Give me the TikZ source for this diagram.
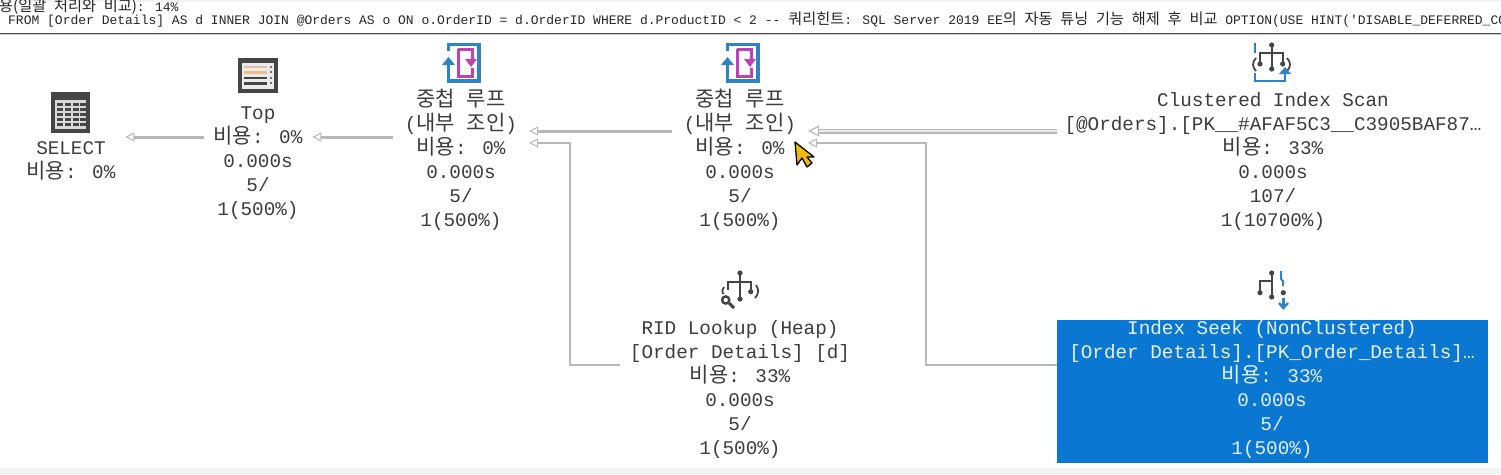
\documentclass[tikz,border=0pt]{standalone}
\usepackage{fontspec}
\usetikzlibrary{arrows.meta,calc}
\newfontfamily\monof{Liberation Mono}
\newfontfamily\kofont{Noto Sans CJK KR}
\newcommand\ko[1]{{\kofont\fontsize{21}{24}\selectfont #1}}
\newcommand\kos[1]{{\kofont\fontsize{15.2}{16}\selectfont #1}}
\definecolor{txt}{HTML}{3C3C3C}
\definecolor{icondark}{HTML}{454545}
\definecolor{iconblue}{HTML}{2F84C4}
\definecolor{iconpink}{HTML}{C040B8}
\definecolor{sel}{HTML}{0A78D2}
\definecolor{flowc}{HTML}{B8B8B8}
\definecolor{cursorc}{HTML}{F2B90C}
\tikzset{
 x=1pt,y=-1pt,
 optext/.style={font=\monof\fontsize{19.3}{24}\selectfont,align=center,text=txt,inner xsep=10pt,inner ysep=0pt,outer sep=0pt},
 hdr/.style={font=\monof\fontsize{13}{15}\selectfont,text=black!85,anchor=base west,inner sep=0pt},
 flowthick/.style={draw=flowc,line width=3pt,-{Triangle[open,length=9pt,width=9pt,line width=1pt,fill=white]}},
 flowdouble/.style={draw=flowc,line width=1.2pt,double=black!8,double distance=2.6pt,-{Triangle[open,length=11pt,width=11pt,line width=1.2pt,fill=white]}},
 flowthin/.style={draw=flowc,line width=2pt,-{Triangle[open,length=9pt,width=9pt,line width=1pt,fill=white]}},
 nlicon/.pic={
  % origin is top-left of the blue frame
  \draw[iconblue,line width=3.2pt] (1.5,8)--(1.5,1.5)--(32,1.5)--(32,38)--(1.5,38)--(1.5,24);
  \draw[iconpink,line width=3pt] (11,6)--(11,33)--(25,33)--(25,25);
  \draw[iconpink,line width=3pt] (11,6)--(25,6)--(25,16);
  \fill[iconpink] (18,16)--(30,16)--(24,24)--cycle;
  \fill[iconblue] (-5,22)--(8,22)--(1.5,14)--cycle;
  \draw[iconblue,line width=3.2pt] (1.5,21)--(1.5,30);
 },
}
\begin{document}
\begin{tikzpicture}
\useasboundingbox (0,0) rectangle (1501,474);
\clip (0,0) rectangle (1501,474);
\fill[white] (0,0) rectangle (1501,474);
\fill[black!5] (0,0) rectangle (1501,2);
\fill[black!5] (0,468) rectangle (1501,474);
% header
\node[hdr] (qcost) at (-1,11) {\kos{용(일괄} \kos{처리와} \kos{비교)}: 14\%};
\node[hdr] (qtext) at (8,24) {FROM [Order Details] AS d INNER JOIN @Orders AS o ON o.OrderID = d.OrderID WHERE d.ProductID < 2 -- \kos{쿼리힌트}: SQL Server 2019 EE\kos{의} \kos{자동} \kos{튜닝} \kos{기능} \kos{해제} \kos{후} \kos{비교} OPTION(USE HINT('DISABLE\_DEFERRED\_CO};
\fill[black!70] (0,32.5) rectangle (1501,34);
\fill[black!20] (0,34) rectangle (1501,35);
% rails
\coordinate (r1) at (0,137);
\coordinate (r2) at (0,131);
\coordinate (r3) at (0,143);
\coordinate (r4) at (0,365);
\coordinate (c1) at (570,0);
\coordinate (c2) at (926,0);
% operator text
\node[optext] (select) at (71,160.5) {SELECT\\\ko{비용}: 0\%};
\node[optext] (top) at (258,163.5) {Top\\\ko{비용}: 0\%\\0.000s\\5/\\1(500\%)};
\node[optext,inner xsep=12pt] (nl1) at (461,160) {\ko{중첩} \ko{루프}\\(\ko{내부} \ko{조인})\\\ko{비용}: 0\%\\0.000s\\5/\\1(500\%)};
\node[optext,inner xsep=12pt] (nl2) at (740,160) {\ko{중첩} \ko{루프}\\(\ko{내부} \ko{조인})\\\ko{비용}: 0\%\\0.000s\\5/\\1(500\%)};
\node[optext,inner xsep=8pt] (scan) at (1273,162) {Clustered Index Scan\\{}[@Orders].[PK\_\_\#AFAF5C3\_\_C3905BAF87…\\\ko{비용}: 33\%\\0.000s\\107/\\1(10700\%)};
\node[optext] (rid) at (740,390) {RID Lookup (Heap)\\{}[Order Details] [d]\\\ko{비용}: 33\%\\0.000s\\5/\\1(500\%)};
\node[fill=sel,minimum width=431pt,minimum height=143pt,inner sep=0pt,outer sep=0pt] (seekbox) at (1272.3,391.4) {};
\node[optext,text=white!90!sel] (seek) at (1272,390) {Index Seek (NonClustered)\\{}[Order Details].[PK\_Order\_Details]…\\\ko{비용}: 33\%\\0.000s\\5/\\1(500\%)};
% connectors
\draw[flowthick] (top.west |- r1) -- (select.east |- r1);
\draw[flowthick] (nl1.west |- r1) -- (top.east |- r1);
\draw[flowthick] (nl2.west |- r2) -- (nl1.east |- r2);
\draw[flowdouble] (scan.west |- r2) -- (nl2.east |- r2);
\draw[flowthin] (rid.west |- r4) -- (c1 |- r4) -- (c1 |- r3) -- (nl1.east |- r3);
\draw[flowthin] (seekbox.west |- r4) -- (c2 |- r4) -- (c2 |- r3) -- (nl2.east |- r3);
% SELECT icon
\fill[icondark] (51,92) rectangle (90,133);
\fill[white!85!black] (55,100) rectangle (86,129);
\foreach \yy in {103,108,113,118,123}{\foreach \xx in {56.5,64.5,72.5,80}{\fill[icondark] (\xx,\yy) rectangle +(6,2.5);}}
% Top icon
\fill[icondark] (238,58) rectangle (278,93);
\fill[white!92!black] (242,63) rectangle (274,89);
\fill[black!25!orange!40] (244,66) rectangle (267,68);
\fill[black!15!orange!45] (244,71) rectangle (267,74);
\fill[icondark] (244,77) rectangle (267,79);
\fill[icondark] (244,82) rectangle (267,85);
\foreach \yy in {67,72,78,83}{\fill[icondark] (271,\yy) circle (1.1);}
% Nested loop icons
\pic at (447,43) {nlicon};
\pic at (726,43) {nlicon};
% Clustered index scan icon
\draw[icondark,line width=2.2pt] (1271.7,45)--(1271.7,69) (1260,64)--(1260,53.3)--(1282.7,53.3)--(1282.7,64);
\fill[icondark] (1271.7,45) circle (2.6) (1271.7,69) circle (2.6) (1260,64) circle (2.6) (1282.7,64) circle (2.6);
\draw[icondark,line width=1.8pt] (1256,58) .. controls (1252,62) and (1252,67) .. (1256,71);
\draw[icondark,line width=1.8pt] (1287,58) .. controls (1291,62) and (1291,67) .. (1287,71);
\draw[iconblue,line width=2.4pt] (1255,43)--(1255,53);
\draw[iconblue,line width=2.4pt] (1255,73)--(1255,81)--(1285,81)--(1285,72);
\fill[iconblue] (1279,74)--(1291,74)--(1285,67)--cycle;
% RID lookup icon
\draw[icondark,line width=2.2pt] (740,273)--(740,299) (728,290)--(728,281.7)--(750.7,281.7)--(750.7,291);
\fill[icondark] (740,273) circle (2.6) (740,299) circle (2.6) (750.7,291.7) circle (2.6);
\draw[icondark,line width=1.8pt] (724,287) .. controls (722,289) and (722,292) .. (723,294);
\draw[icondark,line width=1.8pt] (756,285) .. controls (759,289) and (759,294) .. (755,298);
\draw[icondark,line width=2.4pt] (725.7,300) circle (3.6);
\draw[icondark,line width=3pt] (729,303)--(734,308);
% Index seek icon
\draw[icondark,line width=2.2pt] (1271.7,273)--(1271.7,297) (1260,292.7)--(1260,280.7)--(1271.7,280.7);
\fill[icondark] (1271.7,273) circle (2.6) (1271.7,297) circle (2.6) (1260,292.7) circle (2.6) (1283.3,292.7) circle (2.6);
\draw[iconblue,line width=2pt] (1281,271)--(1281,279)--(1283,281)--(1283,286);
\draw[iconblue,line width=2.4pt] (1283.3,298)--(1283.3,306);
\draw[iconblue,line width=2.4pt] (1279,303)--(1283.3,308)--(1288,303);
% cursor
\draw[black,line width=1.3pt,fill=cursorc,line join=round] (795,142)--(797,165)--(802,158)--(807,167)--(812,163)--(807,157)--(814,157)--cycle;
\end{tikzpicture}
\end{document}
